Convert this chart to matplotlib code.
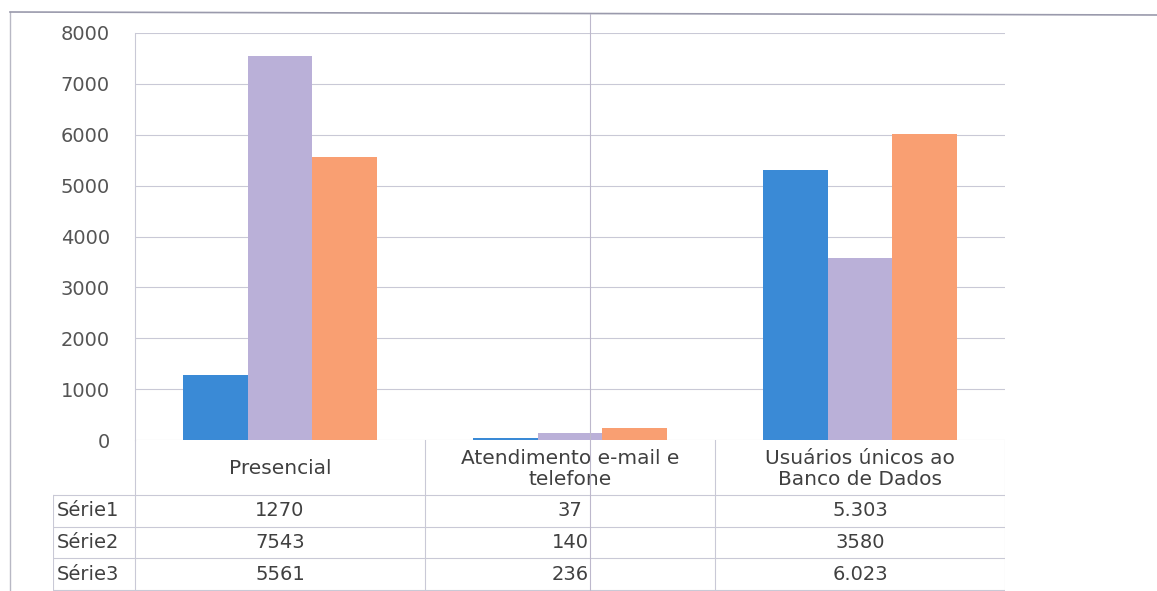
import matplotlib
matplotlib.use("Agg")
import matplotlib.pyplot as plt
from matplotlib.lines import Line2D

plt.rcParams['font.family'] = ['DejaVu Sans']

categories = ["Presencial", "Atendimento e-mail e\ntelefone", "Usuários únicos ao\nBanco de Dados"]
series_names = ["Série1", "Série2", "Série3"]
serie1 = [1270, 37, 5303]
serie2 = [7543, 140, 3580]
serie3 = [5561, 236, 6023]
table_text = [["1270", "37", "5.303"],
              ["7543", "140", "3580"],
              ["5561", "236", "6.023"]]
yticks = [0, 1000, 2000, 3000, 4000, 5000, 6000, 7000, 8000]
colors = ["#3a8ad6", "#bab0d8", "#f99f72"]

W, H = 1157, 591
fig = plt.figure(figsize=(W / 100, H / 100), dpi=100)

def fx(px):
    return px / W

def fy(py):
    return 1 - py / H

# Plot area
left, right, top, bottom = 135, 1005, 33, 440
ax = fig.add_axes([fx(left), fy(bottom), fx(right - left), (bottom - top) / H])
ax.set_xlim(-0.5, 2.5)
ax.set_ylim(0, 8000)
bw = 0.224
for i, (vals, c) in enumerate(zip([serie1, serie2, serie3], colors)):
    ax.bar([k + (i - 1) * bw for k in range(3)], vals, width=bw, color=c, zorder=3)
ax.set_yticks(yticks)
ax.set_yticklabels([str(t) for t in yticks], fontsize=14, color="#555555")
ax.tick_params(axis='y', length=0, pad=18)
ax.set_xticks([])
ax.grid(axis='y', color="#c9c9d6", linewidth=0.8, zorder=0)
for s in ["top", "right", "bottom"]:
    ax.spines[s].set_visible(False)
ax.spines["left"].set_color("#c9c9d6")
ax.spines["left"].set_linewidth(0.8)

# Data table
tax = fig.add_axes([fx(53), 0, fx(right - 53), fy(bottom)])
tax.set_xlim(53, right)
tax.set_ylim(H, bottom)
tax.axis("off")
lc = "#c9c9d6"
col_edges = [135, 425, 715, 1005]
row_edges = [440, 495, 527, 558, 590]
for x in col_edges:
    tax.plot([x, x], [row_edges[0], row_edges[-1]], color=lc, lw=0.8)
tax.plot([53, 53], [row_edges[1], row_edges[-1]], color=lc, lw=0.8)
for y in row_edges[1:]:
    tax.plot([53, 1005], [y, y], color=lc, lw=0.8)
tc = "#404040"
for j, cat in enumerate(categories):
    cx = (col_edges[j] + col_edges[j + 1]) / 2
    tax.text(cx, 469, cat, ha="center", va="center", fontsize=14.5, color=tc,
             linespacing=1.1)
for i, name in enumerate(series_names):
    cy = (row_edges[i + 1] + row_edges[i + 2]) / 2
    tax.text(57, cy, name, ha="left", va="center", fontsize=14, color=tc)
    for j in range(3):
        cx = (col_edges[j] + col_edges[j + 1]) / 2
        tax.text(cx, cy, table_text[i][j], ha="center", va="center",
                 fontsize=14, color=tc)

# Scan frame lines
fig.add_artist(Line2D([fx(10), fx(10)], [fy(12), 0], color="#b8b8c4", lw=1.0))
fig.add_artist(Line2D([fx(10), 1], [fy(12), fy(15)], color="#9a9aac", lw=1.2))
fig.add_artist(Line2D([fx(590), fx(590)], [fy(14), 0], color="#bdb8cc", lw=0.8))

fig.savefig("out.png", dpi=100)
